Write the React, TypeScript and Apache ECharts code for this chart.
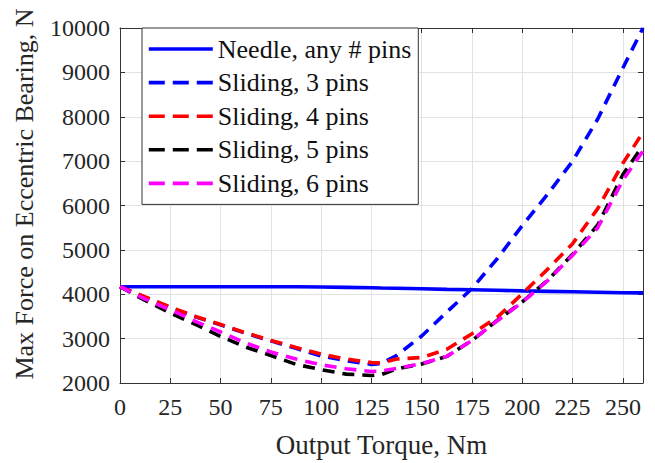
import React, { useEffect, useRef } from "react";
import * as echarts from "echarts";

const torque = [0, 12.5, 25, 37.5, 50, 62.5, 75, 87.5, 100, 112.5, 125, 130, 137.5, 150, 162.5, 175, 187.5, 200, 212.5, 225, 237.5, 250, 260];
const needle = [4170, 4170, 4170, 4170, 4170, 4170, 4170, 4168, 4165, 4155, 4145, 4140, 4135, 4125, 4110, 4100, 4090, 4075, 4065, 4055, 4045, 4035, 4030];
const sliding3 = [4170, 3930, 3700, 3490, 3310, 3120, 2950, 2780, 2610, 2500, 2420, 2440, 2620, 3060, 3600, 4130, 4800, 5550, 6250, 7000, 7950, 9100, 10000];
const sliding4 = [4170, 3940, 3710, 3500, 3320, 3130, 2960, 2800, 2650, 2540, 2460, 2450, 2540, 2575, 2760, 3110, 3480, 4010, 4560, 5140, 5930, 6950, 7650];
const sliding5 = [4170, 3860, 3580, 3320, 3050, 2810, 2620, 2420, 2300, 2200, 2170, 2190, 2320, 2430, 2600, 2960, 3410, 3830, 4310, 4900, 5560, 6700, 7350];
const sliding6 = [4170, 3890, 3650, 3390, 3150, 2900, 2700, 2540, 2410, 2320, 2260, 2270, 2330, 2440, 2600, 2960, 3400, 3820, 4300, 4880, 5500, 6570, 7230];
const seriesNames = ["Needle, any # pins", "Sliding, 3 pins", "Sliding, 4 pins", "Sliding, 5 pins", "Sliding, 6 pins"];
const xTitle = "Output Torque, Nm";
const yTitle = "Max Force on Eccentric Bearing, N";

const FONT = "Liberation Serif";
const TXT = "#262626";

export default function App() {
  const ref = useRef<HTMLDivElement>(null);
  useEffect(() => {
    if (!ref.current) return;
    const chart = echarts.init(ref.current, undefined, { renderer: "svg" });
    const mk = (name: string, vals: number[], color: string, dashed: boolean) => ({
      name,
      type: "line",
      data: torque.map((t, i) => [t, vals[i]]),
      symbol: "none",
      showSymbol: false,
      smooth: false,
      xAxisIndex: 0,
      yAxisIndex: 0,
      lineStyle: { color, width: 3.6, type: dashed ? [12, 8] : "solid", cap: "butt" },
      itemStyle: { color },
      z: 3,
    });
    const axisCommon = {
      axisLine: { show: true, onZero: false, lineStyle: { color: "#333", width: 1 } },
      axisTick: { show: true, inside: true, length: 5, lineStyle: { color: "#333" } },
    };
    chart.setOption({
      animation: false,
      backgroundColor: "#fff",
      textStyle: { fontFamily: FONT },
      grid: { left: 120, right: 12, top: 28, bottom: 78, containLabel: false },
      xAxis: [
        {
          type: "value", min: 0, max: 260, interval: 25, position: "bottom",
          ...axisCommon,
          axisLabel: { fontSize: 24, color: TXT, fontFamily: FONT, margin: 12, showMaxLabel: false, formatter: (v: number) => String(v) },
          splitLine: { show: true, lineStyle: { color: "#e2e2e2", width: 1 } },
          name: xTitle, nameLocation: "middle", nameGap: 48,
          nameTextStyle: { fontSize: 27, color: TXT, fontFamily: FONT },
        },
        {
          type: "value", min: 0, max: 260, interval: 25, position: "top",
          ...axisCommon,
          axisLabel: { show: false },
          splitLine: { show: false },
        },
      ],
      yAxis: [
        {
          type: "value", min: 2000, max: 10000, interval: 1000, position: "left",
          ...axisCommon,
          axisLabel: { fontSize: 24, color: TXT, fontFamily: FONT, margin: 10, formatter: (v: number) => String(v) },
          splitLine: { show: true, lineStyle: { color: "#e2e2e2", width: 1 } },
        },
        {
          type: "value", min: 2000, max: 10000, interval: 1000, position: "right",
          ...axisCommon,
          axisLabel: { show: false },
          splitLine: { show: false },
        },
      ],
      legend: {
        orient: "vertical",
        left: 142,
        top: 28,
        padding: [8, 7, 8, 5],
        itemWidth: 64,
        itemHeight: 14,
        itemGap: 7.6,
        backgroundColor: "#fff",
        borderColor: "#333",
        borderWidth: 1,
        borderRadius: 0,
        textStyle: { fontSize: 26, color: "#111", fontFamily: FONT },
        lineStyle: { width: 3.6 },
        itemStyle: { opacity: 0 },
        data: seriesNames.map((n, i) =>
          i === 0 ? { name: n } : { name: n, lineStyle: { type: [16, 8], width: 3.6 } }
        ),
        z: 10,
      },
      graphic: [
        {
          type: "text",
          x: 24,
          y: 194,
          rotation: Math.PI / 2,
          style: {
            text: yTitle,
            fontSize: 26,
            fontFamily: FONT,
            fill: TXT,
            align: "center",
            verticalAlign: "middle",
            textAlign: "center",
            textVerticalAlign: "middle",
          },
        },
      ],
      series: [
        mk(seriesNames[0], needle, "#0000ff", false),
        mk(seriesNames[1], sliding3, "#0000ff", true),
        mk(seriesNames[2], sliding4, "#ff0000", true),
        mk(seriesNames[3], sliding5, "#000000", true),
        mk(seriesNames[4], sliding6, "#ff00ff", true),
      ],
    });
    return () => chart.dispose();
  }, []);
  return (
    <div
      ref={ref}
      style={{ position: "fixed", left: 0, top: 0, width: 655, height: 463, background: "#fff" }}
    />
  );
}
